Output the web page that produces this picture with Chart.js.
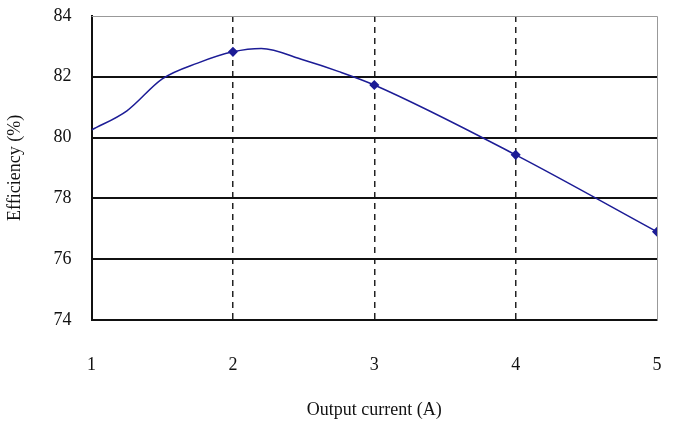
<!DOCTYPE html>
<html>
<head>
<meta charset="utf-8">
<script src="https://cdn.jsdelivr.net/npm/chart.js@4/dist/chart.umd.min.js"></script>
<style>
  body { margin: 0; background: #fff; }
  #wrap { width: 684px; height: 429px; }
</style>
</head>
<body>
<div id="wrap"><canvas id="eff"></canvas></div>
<script>
const current = [1, 1.25, 1.5, 1.75, 2, 2.2, 2.5, 2.75, 3, 4, 5];
const efficiency = [80.25, 80.88, 81.93, 82.45, 82.82, 82.93, 82.55, 82.17, 81.73, 79.43, 76.9];
const marked = [false, false, false, false, true, false, false, false, true, true, true];
const xTicks = [1, 2, 3, 4, 5];
const yTicks = [74, 76, 78, 80, 82, 84];

const tickFont = { family: 'Liberation Serif', size: 18 };

// grey frame on top/right like the original plot area
const frame = {
  id: 'frame',
  beforeDatasetsDraw(chart) {
    const { ctx, chartArea: a } = chart;
    ctx.save();
    ctx.strokeStyle = '#999';
    ctx.lineWidth = 1;
    ctx.beginPath();
    ctx.moveTo(a.left, a.top + 0.5);
    ctx.lineTo(a.right + 0.5, a.top + 0.5);
    ctx.lineTo(a.right + 0.5, a.bottom);
    ctx.stroke();
    ctx.restore();
  }
};

new Chart(document.getElementById('eff'), {
  type: 'line',
  data: {
    datasets: [{
      data: current.map((x, i) => ({ x: x, y: efficiency[i] })),
      borderColor: '#1c1c96',
      backgroundColor: '#1c1c96',
      borderWidth: 1.5,
      cubicInterpolationMode: 'monotone',
      pointStyle: 'rectRot',
      pointRadius: marked.map(m => m ? 4 : 0),
      pointHoverRadius: 0
    }]
  },
  options: {
    responsive: true,
    maintainAspectRatio: false,
    animation: false,
    layout: { padding: { top: 16, right: 27, left: 0, bottom: 8 } },
    plugins: { legend: { display: false }, tooltip: { enabled: false } },
    scales: {
      x: {
        type: 'linear',
        min: 1, max: 5,
        afterBuildTicks: s => { s.ticks = xTicks.map(v => ({ value: v })); },
        afterFit: s => { s.paddingLeft = 0; s.paddingRight = 0; },
        grid: {
          color: c => (c.tick && (c.tick.value === 1 || c.tick.value === 5)) ? 'rgba(0,0,0,0)' : '#222',
          lineWidth: 1.5,
          drawTicks: false
        },
        border: { color: '#111', width: 2, dash: [6, 5] },
        ticks: { color: '#111', font: tickFont, padding: 35 },
        title: { display: true, text: 'Output current (A)', color: '#111', font: tickFont, padding: { top: -12, bottom: 0 } }
      },
      y: {
        min: 74, max: 84,
        afterBuildTicks: s => { s.ticks = yTicks.map(v => ({ value: v })); },
        afterFit: s => { s.paddingTop = 0; s.paddingBottom = 0; },
        grid: {
          color: c => (c.tick && (c.tick.value === 74 || c.tick.value === 84)) ? 'rgba(0,0,0,0)' : '#111',
          lineWidth: 2,
          drawTicks: false
        },
        border: { color: '#111', width: 2 },
        ticks: { color: '#111', font: tickFont, padding: 20 },
        title: { display: true, text: 'Efficiency (%)', color: '#111', font: tickFont, padding: { top: 4, bottom: 8 } }
      }
    }
  },
  plugins: [frame]
});
</script>
</body>
</html>
